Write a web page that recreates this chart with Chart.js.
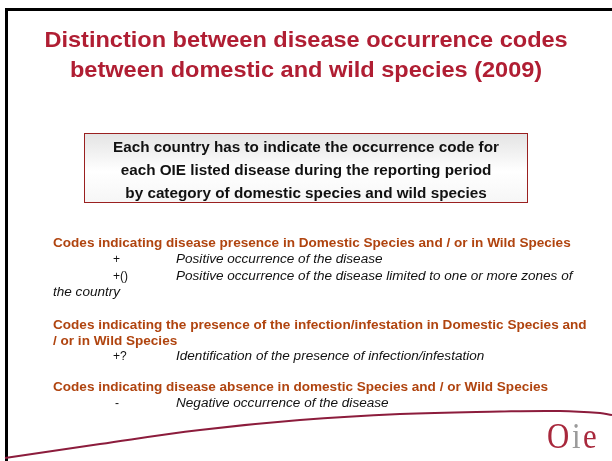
<!DOCTYPE html>
<html>
<head>
<meta charset="utf-8">
<script src="https://cdn.jsdelivr.net/npm/chart.js@4/dist/chart.umd.min.js"></script>
<style>
    html, body { margin: 0; padding: 0; background: #fff; }
    #slide { position: relative; width: 612px; height: 461px; overflow: hidden; font-family: "Liberation Sans", Arial, sans-serif; }
    #frame { position: absolute; left: 5px; top: 8px; width: 700px; height: 600px; border-left: 3px solid #000; border-top: 3px solid #000; }
    #swoosh { position: absolute; left: 0; top: 0; }
    .title { position: absolute; left: 0; width: 612px; text-align: center; color: #b01e33; font-weight: bold; font-size: 22px; line-height: 30px; white-space: nowrap; transform: scaleX(1.07); transform-origin: 305px 0; }
    #box { position: absolute; left: 84px; top: 133px; width: 442px; height: 68px; border: 1px solid #9a2020;
           background: linear-gradient(to bottom, #e4e4e4 0%, #ffffff 55%, #f6f6f6 100%); }
    .boxline { position: absolute; left: 84px; width: 444px; text-align: center; font-weight: bold; font-size: 14px; line-height: 16px; color: #111; white-space: nowrap; transform: scaleX(1.09); transform-origin: 222px 0; }
    .line { position: absolute; left: 53px; height: 16px; line-height: 16px; white-space: nowrap; }
    .head { color: #b0440f; font-weight: bold; font-size: 12.5px; transform: scaleX(1.085); transform-origin: 0 0; }
    .code { position: absolute; left: 113px; font-size: 12px; color: #111; }
    .desc { position: absolute; left: 176px; font-size: 12px; font-style: italic; color: #111; transform: scaleX(1.13); transform-origin: 0 0; }
    .plain { font-size: 12px; font-style: italic; color: #111; transform: scaleX(1.13); transform-origin: 0 0; }
    #logo { position: absolute; left: 547px; top: 420px; font-family: "Liberation Serif", "DejaVu Serif", serif; font-size: 35px; line-height: 34px; color: #a8283c; white-space: nowrap; letter-spacing: 3px; transform: scaleX(0.88); transform-origin: 0 0; }
    #logo .i { color: #9a9a9a; }
</style>
</head>
<body>
<div id="slide">
    <div id="frame"></div>
    <canvas id="swoosh" width="612" height="461"></canvas>

    <div class="title" style="top:25px">Distinction between disease occurrence codes</div>
    <div class="title" style="top:55px">between domestic and wild species (2009)</div>

    <div id="box"></div>
    <div class="boxline" style="top:139px">Each country has to indicate the occurrence code for</div>
    <div class="boxline" style="top:162px">each OIE listed disease during the reporting period</div>
    <div class="boxline" style="top:185px">by category of domestic species and wild species</div>

    <div class="line head" style="top:235px">Codes indicating disease presence in Domestic Species and / or in Wild Species</div>
    <div class="line" style="top:251px;left:0;width:612px"><span class="code">+</span><span class="desc">Positive occurrence of the disease</span></div>
    <div class="line" style="top:268px;left:0;width:612px"><span class="code">+()</span><span class="desc">Positive occurrence of the disease limited to one or more zones of</span></div>
    <div class="line plain" style="top:284px">the country</div>

    <div class="line head" style="top:317px">Codes indicating the presence of the infection/infestation in Domestic Species and</div>
    <div class="line head" style="top:333px">/ or in Wild Species</div>
    <div class="line" style="top:348px;left:0;width:612px"><span class="code">+?</span><span class="desc">Identification of the presence of infection/infestation</span></div>

    <div class="line head" style="top:379px">Codes indicating disease absence in domestic Species and / or Wild Species</div>
    <div class="line" style="top:395px;left:0;width:612px"><span class="code" style="left:115px">-</span><span class="desc">Negative occurrence of the disease</span></div>

    <div id="logo">O<span class="i">i</span>e</div>
</div>

<script>
// decorative curve along the bottom of the slide, in slide units
const curveX = [5, 100, 200, 300, 400, 500, 560, 600, 612];
const curveY = [458, 444, 430, 420, 414, 411.5, 411, 413, 415];

function drawSwoosh() {
    const ctx = document.getElementById('swoosh');

    let points = [];
    for (let i = 0; i < curveX.length; i++) {
        points.push({x: curveX[i], y: curveY[i]});
    }

    new Chart(ctx, {
        type: 'line',
        data: {
            datasets: [
                {
                    data: points,
                    borderColor: '#8c1c3c',
                    borderWidth: 2,
                    pointRadius: 0,
                    tension: 0.4,
                    fill: false
                }
            ]
        },
        options: {
            responsive: false,
            animation: false,
            layout: { padding: 0 },
            plugins: { legend: { display: false }, tooltip: { enabled: false } },
            scales: {
                x: { type: 'linear', display: false, min: 0, max: 612 },
                y: { type: 'linear', display: false, min: 0, max: 461, reverse: true }
            }
        }
    });
}

drawSwoosh();
</script>
</body>
</html>
